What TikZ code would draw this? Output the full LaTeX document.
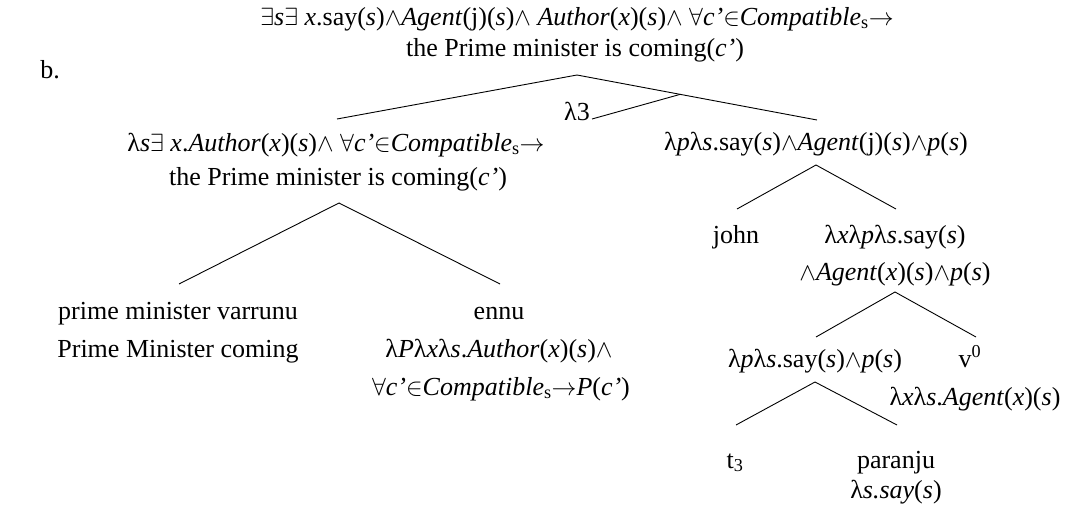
\documentclass[tikz,border=0pt]{standalone}
\usepackage{fontspec}
\setmainfont{Liberation Serif}
\usetikzlibrary{calc}
\newcommand{\qE}{\ensuremath{\exists}}
\newcommand{\qA}{\ensuremath{\wedge}}
\newcommand{\qF}{\ensuremath{\forall}}
\newcommand{\qIn}{\ensuremath{\in}}
\newcommand{\qTo}{\ensuremath{\rightarrow}}
\newcommand{\qL}{λ}
\begin{document}
\begin{tikzpicture}[x=1pt,y=-1pt,
  lab/.style={anchor=base,inner sep=0pt,outer sep=0pt,font=\fontsize{26}{30}\selectfont},
  branch/.style={line width=0.9pt}]
\useasboundingbox (0,0) rectangle (1070,506);
% root
\node[lab] (b) at (50,78) {b.};
\node[lab] (r1) at (577,25) {\qE\textit{s}\qE\ \textit{x}.say(\textit{s})\qA\textit{Agent}(j)(\textit{s})\qA\ \textit{Author}(\textit{x})(\textit{s})\qA\ \qF\textit{c’}\qIn\textit{Compatible}\textsubscript{s}\qTo};
\node[lab] (r2) at (575,56) {the Prime minister is coming(\textit{c’})};
\coordinate (ra) at (577,75);
\coordinate (lt) at (337,119);
\coordinate (rt) at (817,120);
\coordinate (la) at ($(ra)!0.43!(rt)$);
\coordinate (le) at (592,119);
\node[lab] (l3) at (577,120) {\qL3};
% left subtree
\node[lab] (L1) at (336,151) {\qL\textit{s}\qE\ \textit{x}.\textit{Author}(\textit{x})(\textit{s})\qA\ \qF\textit{c’}\qIn\textit{Compatible}\textsubscript{s}\qTo};
\node[lab] (L2) at (338,185) {the Prime minister is coming(\textit{c’})};
\coordinate (Lb) at (339,203);
\coordinate (pmt) at (179,284);
\coordinate (ent) at (500,284);
\node[lab] (pm1) at (178,319) {prime minister varrunu};
\node[lab] (pm2) at (178,357) {Prime Minister coming};
\node[lab] (en1) at (499,319) {ennu};
\node[lab] (en2) at (499,357) {\qL\textit{P}\qL\textit{x}\qL\textit{s}.\textit{Author}(\textit{x})(\textit{s})\qA};
\node[lab] (en3) at (501,395) {\qF\textit{c’}\qIn\textit{Compatible}\textsubscript{s}\qTo\textit{P}(\textit{c’})};
% right subtree
\node[lab] (R) at (816,150) {\qL\textit{p}\qL\textit{s}.say(\textit{s})\qA\textit{Agent}(j)(\textit{s})\qA\textit{p}(\textit{s})};
\coordinate (Rb) at (816,165);
\coordinate (jt) at (737,209);
\coordinate (vt) at (896,209);
\node[lab] (jo) at (736,243) {john};
\node[lab] (v1) at (895,243) {\qL\textit{x}\qL\textit{p}\qL\textit{s}.say(\textit{s})};
\node[lab] (v2) at (895,280) {\qA\textit{Agent}(\textit{x})(\textit{s})\qA\textit{p}(\textit{s})};
\coordinate (vb) at (895,292);
\coordinate (st) at (816,337);
\coordinate (v0t) at (976,337);
\node[lab] (s1) at (815,367) {\qL\textit{p}\qL\textit{s}.say(\textit{s})\qA\textit{p}(\textit{s})};
\node[lab] (v01) at (970,367) {v\textsuperscript{0}};
\node[lab] (v02) at (975,405) {\qL\textit{x}\qL\textit{s}.\textit{Agent}(\textit{x})(\textit{s})};
\coordinate (sb) at (815,382);
\coordinate (tt) at (736,425);
\coordinate (pt) at (897,425);
\node[lab] (t3) at (735,468) {t\textsubscript{3}};
\node[lab] (pa1) at (896,468) {paranju};
\node[lab] (pa2) at (896,498) {\qL\textit{s.say}(\textit{s})};
% branches
\draw[branch] (lt) -- (ra) -- (rt);
\draw[branch] (la) -- (le);
\draw[branch] (pmt) -- (Lb) -- (ent);
\draw[branch] (jt) -- (Rb) -- (vt);
\draw[branch] (st) -- (vb) -- (v0t);
\draw[branch] (tt) -- (sb) -- (pt);
\end{tikzpicture}
\end{document}
